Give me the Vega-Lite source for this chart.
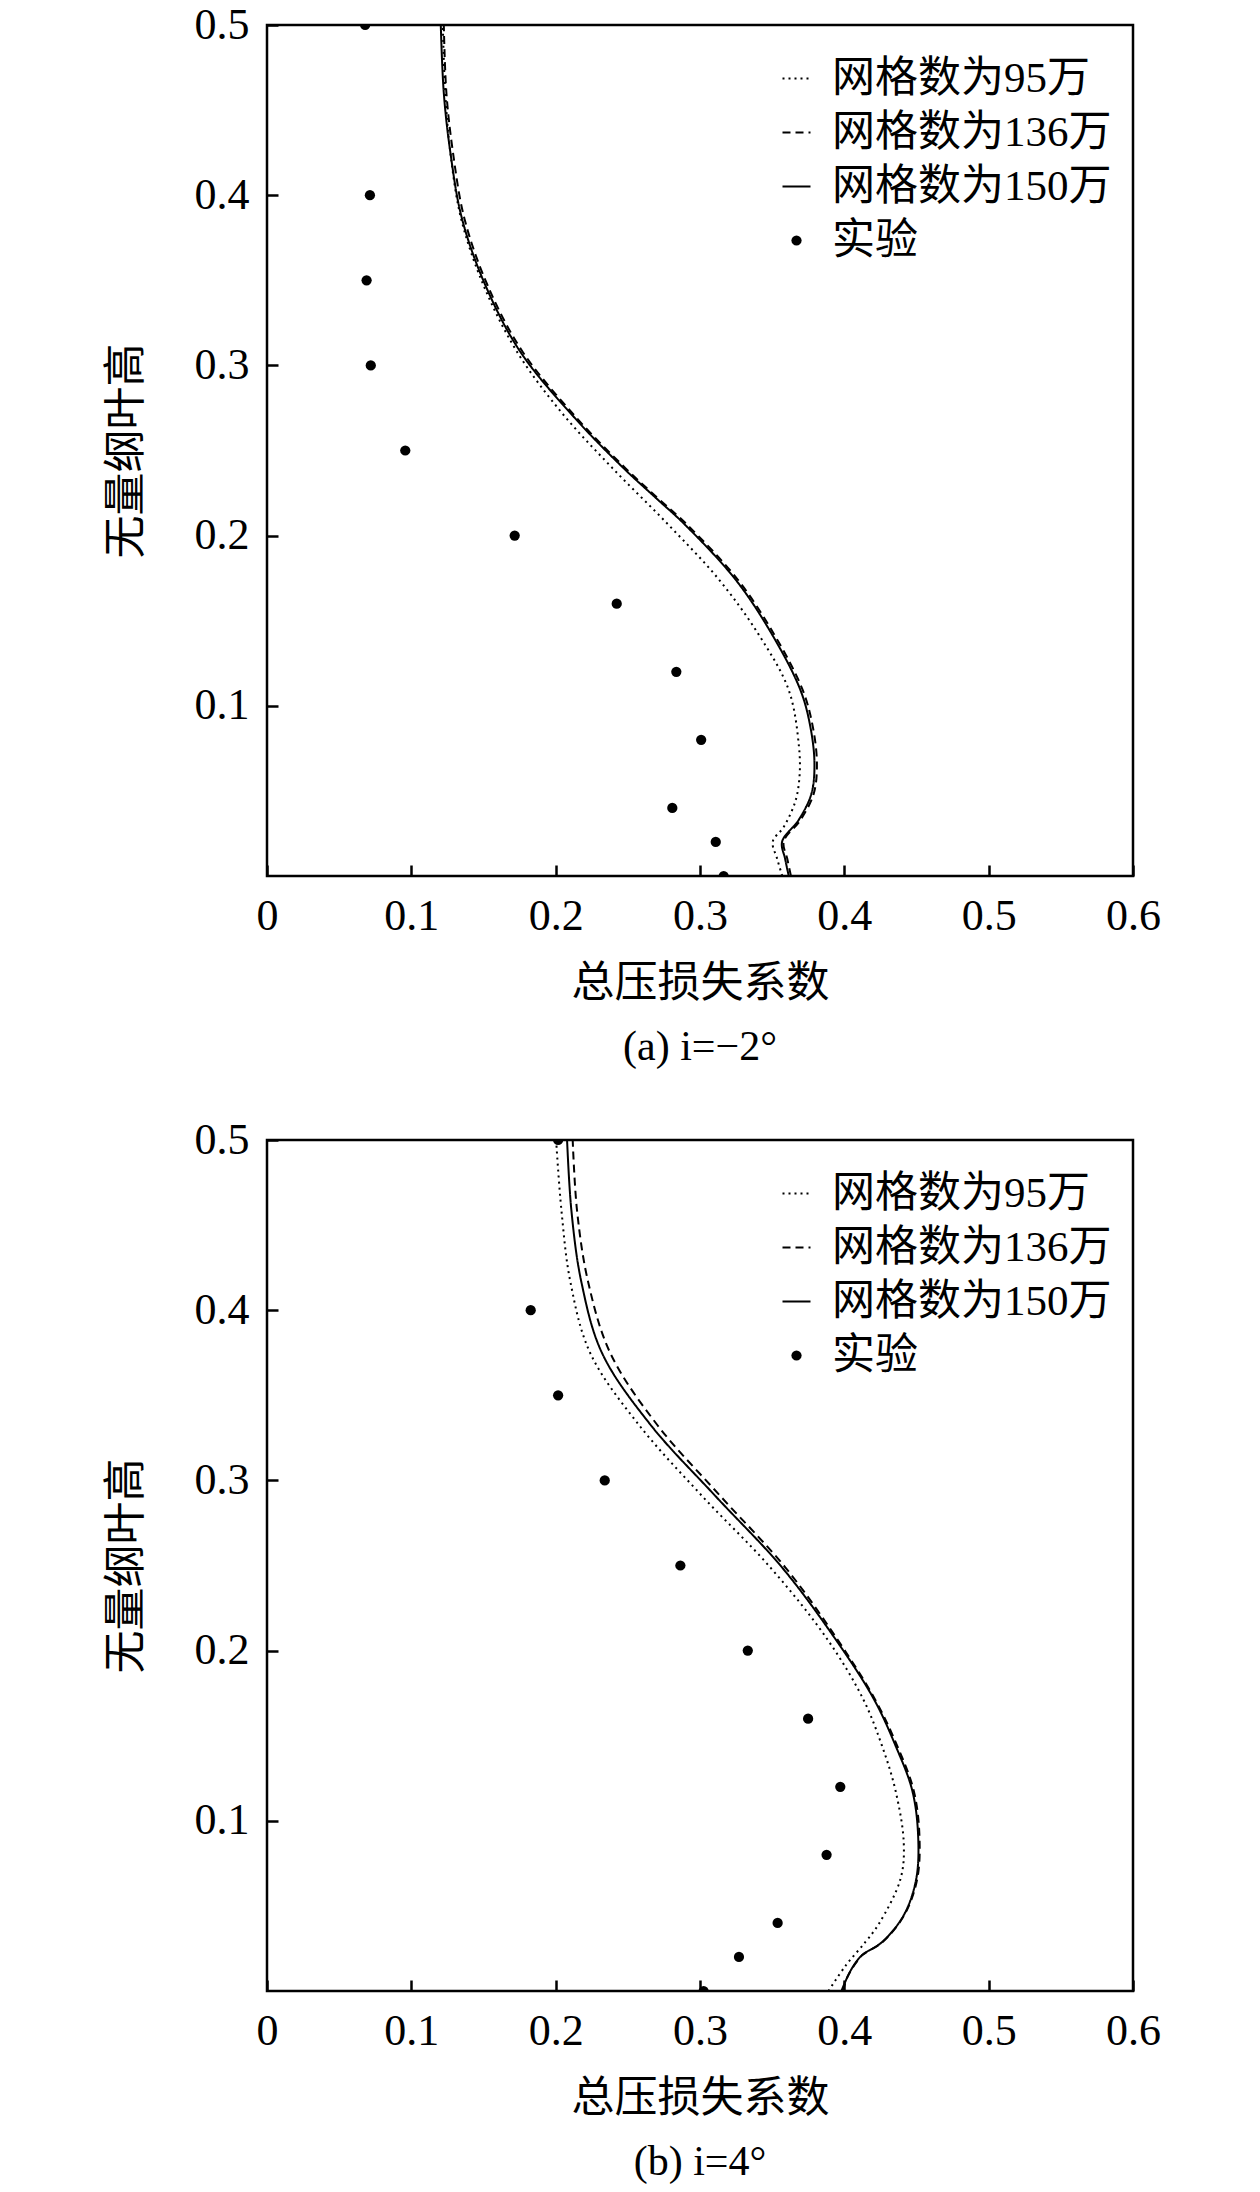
{
  "$schema": "https://vega.github.io/schema/vega-lite/v6.json",
  "background": "white",
  "padding": {"left": 103, "top": 1, "right": 5, "bottom": 5},
  "datasets": {
    "a_lines": [
      {"s": "网格数为95万", "x": 0.1218, "y": 0.5}, {"s": "网格数为95万", "x": 0.1235, "y": 0.46}, {"s": "网格数为95万", "x": 0.127, "y": 0.4254},
      {"s": "网格数为95万", "x": 0.1345, "y": 0.3862}, {"s": "网格数为95万", "x": 0.15, "y": 0.3471}, {"s": "网格数为95万", "x": 0.1733, "y": 0.3079},
      {"s": "网格数为95万", "x": 0.2044, "y": 0.272}, {"s": "网格数为95万", "x": 0.2395, "y": 0.2395}, {"s": "网格数为95万", "x": 0.2775, "y": 0.2069},
      {"s": "网格数为95万", "x": 0.313, "y": 0.1743}, {"s": "网格数为95万", "x": 0.3407, "y": 0.1418}, {"s": "网格数为95万", "x": 0.3615, "y": 0.1092},
      {"s": "网格数为95万", "x": 0.3685, "y": 0.0766}, {"s": "网格数为95万", "x": 0.369, "y": 0.0592}, {"s": "网格数为95万", "x": 0.3661, "y": 0.044},
      {"s": "网格数为95万", "x": 0.358, "y": 0.0288}, {"s": "网格数为95万", "x": 0.3504, "y": 0.0202}, {"s": "网格数为95万", "x": 0.3535, "y": 0.01},
      {"s": "网格数为95万", "x": 0.357, "y": 0},
      {"s": "网格数为136万", "x": 0.1225, "y": 0.5}, {"s": "网格数为136万", "x": 0.1243, "y": 0.46}, {"s": "网格数为136万", "x": 0.1288, "y": 0.4254},
      {"s": "网格数为136万", "x": 0.1368, "y": 0.3862}, {"s": "网格数为136万", "x": 0.1528, "y": 0.3471}, {"s": "网格数为136万", "x": 0.1772, "y": 0.3079},
      {"s": "网格数为136万", "x": 0.215, "y": 0.2687}, {"s": "网格数为136万", "x": 0.2485, "y": 0.2395}, {"s": "网格数为136万", "x": 0.2712, "y": 0.2217},
      {"s": "网格数为136万", "x": 0.2905, "y": 0.2069}, {"s": "网格数为136万", "x": 0.326, "y": 0.1743}, {"s": "网格数为136万", "x": 0.3515, "y": 0.1418},
      {"s": "网格数为136万", "x": 0.3712, "y": 0.1092}, {"s": "网格数为136万", "x": 0.3782, "y": 0.0875}, {"s": "网格数为136万", "x": 0.381, "y": 0.0658},
      {"s": "网格数为136万", "x": 0.3788, "y": 0.0484}, {"s": "网格数为136万", "x": 0.3698, "y": 0.0331}, {"s": "网格数为136万", "x": 0.358, "y": 0.0202},
      {"s": "网格数为136万", "x": 0.3605, "y": 0.01}, {"s": "网格数为136万", "x": 0.363, "y": 0},
      {"s": "网格数为150万", "x": 0.1204, "y": 0.5}, {"s": "网格数为150万", "x": 0.1225, "y": 0.46}, {"s": "网格数为150万", "x": 0.127, "y": 0.4254},
      {"s": "网格数为150万", "x": 0.1351, "y": 0.3862}, {"s": "网格数为150万", "x": 0.1513, "y": 0.3471}, {"s": "网格数为150万", "x": 0.1756, "y": 0.3079},
      {"s": "网格数为150万", "x": 0.2137, "y": 0.2687}, {"s": "网格数为150万", "x": 0.2472, "y": 0.2395}, {"s": "网格数为150万", "x": 0.27, "y": 0.2217},
      {"s": "网格数为150万", "x": 0.289, "y": 0.2069}, {"s": "网格数为150万", "x": 0.3245, "y": 0.1743}, {"s": "网格数为150万", "x": 0.35, "y": 0.1418},
      {"s": "网格数为150万", "x": 0.3696, "y": 0.1092}, {"s": "网格数为150万", "x": 0.3765, "y": 0.0875}, {"s": "网格数为150万", "x": 0.3793, "y": 0.0658},
      {"s": "网格数为150万", "x": 0.3772, "y": 0.0484}, {"s": "网格数为150万", "x": 0.3685, "y": 0.0331}, {"s": "网格数为150万", "x": 0.3569, "y": 0.0202},
      {"s": "网格数为150万", "x": 0.359, "y": 0.01}, {"s": "网格数为150万", "x": 0.3615, "y": 0}
    ],
    "a_pts": [
      {"x": 0.068, "y": 0.5}, {"x": 0.0713, "y": 0.4}, {"x": 0.069, "y": 0.35}, {"x": 0.0719, "y": 0.3},
      {"x": 0.0958, "y": 0.25}, {"x": 0.1716, "y": 0.2}, {"x": 0.2423, "y": 0.16}, {"x": 0.2836, "y": 0.12},
      {"x": 0.3008, "y": 0.08}, {"x": 0.2808, "y": 0.04}, {"x": 0.3109, "y": 0.02}, {"x": 0.3164, "y": 0}
    ],
    "b_lines": [
      {"s": "网格数为95万", "x": 0.2003, "y": 0.5}, {"s": "网格数为95万", "x": 0.204, "y": 0.4586}, {"s": "网格数为95万", "x": 0.2102, "y": 0.4166},
      {"s": "网格数为95万", "x": 0.224, "y": 0.3747}, {"s": "网格数为95万", "x": 0.2576, "y": 0.3327}, {"s": "网格数为95万", "x": 0.3015, "y": 0.2908},
      {"s": "网格数为95万", "x": 0.3488, "y": 0.2488}, {"s": "网格数为95万", "x": 0.3881, "y": 0.2068}, {"s": "网格数为95万", "x": 0.413, "y": 0.1716},
      {"s": "网格数为95万", "x": 0.426, "y": 0.1443}, {"s": "网格数为95万", "x": 0.4354, "y": 0.118}, {"s": "网格数为95万", "x": 0.4412, "y": 0.0866},
      {"s": "网格数为95万", "x": 0.4389, "y": 0.0658}, {"s": "网格数为95万", "x": 0.4239, "y": 0.0394}, {"s": "网格数为95万", "x": 0.4146, "y": 0.0288},
      {"s": "网格数为95万", "x": 0.401, "y": 0.015}, {"s": "网格数为95万", "x": 0.389, "y": 0},
      {"s": "网格数为136万", "x": 0.2118, "y": 0.5}, {"s": "网格数为136万", "x": 0.2148, "y": 0.4586}, {"s": "网格数为136万", "x": 0.2225, "y": 0.4166},
      {"s": "网格数为136万", "x": 0.2379, "y": 0.3747}, {"s": "网格数为136万", "x": 0.2703, "y": 0.3327}, {"s": "网格数为136万", "x": 0.3141, "y": 0.2908},
      {"s": "网格数为136万", "x": 0.3592, "y": 0.2488}, {"s": "网格数为136万", "x": 0.395, "y": 0.2068}, {"s": "网格数为136万", "x": 0.4211, "y": 0.1716},
      {"s": "网格数为136万", "x": 0.4365, "y": 0.1443}, {"s": "网格数为136万", "x": 0.448, "y": 0.118}, {"s": "网格数为136万", "x": 0.452, "y": 0.0918},
      {"s": "网格数为136万", "x": 0.4505, "y": 0.0658}, {"s": "网格数为136万", "x": 0.4415, "y": 0.0446}, {"s": "网格数为136万", "x": 0.4265, "y": 0.0288},
      {"s": "网格数为136万", "x": 0.4125, "y": 0.0211}, {"s": "网格数为136万", "x": 0.4068, "y": 0.015}, {"s": "网格数为136万", "x": 0.402, "y": 0.008},
      {"s": "网格数为136万", "x": 0.399, "y": 0},
      {"s": "网格数为150万", "x": 0.2079, "y": 0.5}, {"s": "网格数为150万", "x": 0.2109, "y": 0.4586}, {"s": "网格数为150万", "x": 0.2178, "y": 0.4166},
      {"s": "网格数为150万", "x": 0.2322, "y": 0.3747}, {"s": "网格数为150万", "x": 0.2657, "y": 0.3327}, {"s": "网格数为150万", "x": 0.3107, "y": 0.2908},
      {"s": "网格数为150万", "x": 0.3569, "y": 0.2488}, {"s": "网格数为150万", "x": 0.3938, "y": 0.2068}, {"s": "网格数为150万", "x": 0.4204, "y": 0.1716},
      {"s": "网格数为150万", "x": 0.4354, "y": 0.1443}, {"s": "网格数为150万", "x": 0.447, "y": 0.118}, {"s": "网格数为150万", "x": 0.4511, "y": 0.0918},
      {"s": "网格数为150万", "x": 0.4498, "y": 0.0658}, {"s": "网格数为150万", "x": 0.4412, "y": 0.0446}, {"s": "网格数为150万", "x": 0.4262, "y": 0.0288},
      {"s": "网格数为150万", "x": 0.4123, "y": 0.0211}, {"s": "网格数为150万", "x": 0.4065, "y": 0.015}, {"s": "网格数为150万", "x": 0.402, "y": 0.008},
      {"s": "网格数为150万", "x": 0.398, "y": 0}
    ],
    "b_pts": [
      {"x": 0.2017, "y": 0.5}, {"x": 0.1827, "y": 0.4}, {"x": 0.2017, "y": 0.35}, {"x": 0.234, "y": 0.3},
      {"x": 0.2864, "y": 0.25}, {"x": 0.3331, "y": 0.2}, {"x": 0.3749, "y": 0.16}, {"x": 0.3972, "y": 0.12},
      {"x": 0.3877, "y": 0.08}, {"x": 0.3538, "y": 0.04}, {"x": 0.327, "y": 0.02}, {"x": 0.3025, "y": 0}
    ]
  },
  "config": {
    "view": {"stroke": "black", "strokeWidth": 2.5},
    "font": "Liberation Serif, Noto Sans CJK SC",
    "axis": {
      "domain": false, "grid": false, "labelFlush": false,
      "tickSize": -11, "tickWidth": 2.5, "tickColor": "black",
      "labelFont": "Liberation Serif", "labelFontSize": 44, "labelColor": "black", "labelPadding": 29,
      "titleFont": "Liberation Serif, Noto Sans CJK SC", "titleFontSize": 43, "titleFontWeight": "normal", "titleColor": "black"
    },
    "title": {"font": "Liberation Serif, Noto Sans CJK SC", "fontSize": 42, "fontWeight": "normal", "color": "black", "orient": "bottom", "anchor": "middle", "offset": 22},
    "legend": {
      "title": null, "orient": "none", "legendX": 508, "legendY": 32,
      "labelFont": "Liberation Serif, Noto Sans CJK SC", "labelFontSize": 43, "labelColor": "black", "labelLimit": 0,
      "labelOffset": 14, "rowPadding": 10, "symbolType": "stroke", "symbolSize": 784,
      "symbolStrokeWidth": 2, "symbolStrokeColor": "black"
    }
  },
  "resolve": {"scale": {"strokeDash": "independent"}, "legend": {"strokeDash": "independent"}},
  "spacing": 46,
  "vconcat": [
    {
      "width": 866, "height": 851,
      "title": {"text": "(a) i=−2°"},
      "layer": [
        {
          "data": {"name": "a_lines"},
          "mark": {"type": "line", "color": "black", "strokeWidth": 2, "interpolate": "catmull-rom", "clip": true},
          "encoding": {
            "x": {"field": "x", "type": "quantitative", "scale": {"domain": [0, 0.6], "nice": false},
                  "axis": {"values": [0, 0.1, 0.2, 0.3, 0.4, 0.5, 0.6], "format": ".1~f", "title": "总压损失系数", "titlePadding": 24}},
            "y": {"field": "y", "type": "quantitative", "scale": {"domain": [0, 0.5], "nice": false},
                  "axis": {"values": [0.1, 0.2, 0.3, 0.4, 0.5], "format": ".1f", "title": "无量纲叶高", "titlePadding": 46}},
            "strokeDash": {"field": "s", "type": "nominal",
              "scale": {"domain": ["网格数为95万", "网格数为136万", "网格数为150万", "实验"], "range": [[2, 4], [8, 5], [1, 0], [1, 0]]},
              "legend": {"encode": {"symbols": {"update": {
                "shape": {"signal": "datum.value === '实验' ? 'circle' : 'stroke'"},
                "size": {"signal": "datum.value === '实验' ? 105 : 784"},
                "fill": {"signal": "datum.value === '实验' ? 'black' : 'transparent'"},
                "stroke": {"value": "black"},
                "strokeDash": {"signal": "datum.value === '网格数为95万' ? [2, 4] : datum.value === '网格数为136万' ? [8, 5] : [1, 0]"},
                "strokeWidth": {"signal": "datum.value === '实验' ? 0 : 2"},
                "opacity": {"value": 1}
              }}}}},
            "order": {"field": "y", "type": "quantitative"}
          }
        },
        {
          "data": {"name": "a_pts"},
          "mark": {"type": "circle", "color": "black", "opacity": 1, "size": 105, "clip": true},
          "encoding": {
            "x": {"field": "x", "type": "quantitative"},
            "y": {"field": "y", "type": "quantitative"}
          }
        }
      ]
    },
    {
      "width": 866, "height": 851,
      "title": {"text": "(b) i=4°"},
      "layer": [
        {
          "data": {"name": "b_lines"},
          "mark": {"type": "line", "color": "black", "strokeWidth": 2, "interpolate": "catmull-rom", "clip": true},
          "encoding": {
            "x": {"field": "x", "type": "quantitative", "scale": {"domain": [0, 0.6], "nice": false},
                  "axis": {"values": [0, 0.1, 0.2, 0.3, 0.4, 0.5, 0.6], "format": ".1~f", "title": "总压损失系数", "titlePadding": 24}},
            "y": {"field": "y", "type": "quantitative", "scale": {"domain": [0, 0.5], "nice": false},
                  "axis": {"values": [0.1, 0.2, 0.3, 0.4, 0.5], "format": ".1f", "title": "无量纲叶高", "titlePadding": 46}},
            "strokeDash": {"field": "s", "type": "nominal",
              "scale": {"domain": ["网格数为95万", "网格数为136万", "网格数为150万", "实验"], "range": [[2, 4], [8, 5], [1, 0], [1, 0]]},
              "legend": {"encode": {"symbols": {"update": {
                "shape": {"signal": "datum.value === '实验' ? 'circle' : 'stroke'"},
                "size": {"signal": "datum.value === '实验' ? 105 : 784"},
                "fill": {"signal": "datum.value === '实验' ? 'black' : 'transparent'"},
                "stroke": {"value": "black"},
                "strokeDash": {"signal": "datum.value === '网格数为95万' ? [2, 4] : datum.value === '网格数为136万' ? [8, 5] : [1, 0]"},
                "strokeWidth": {"signal": "datum.value === '实验' ? 0 : 2"},
                "opacity": {"value": 1}
              }}}}},
            "order": {"field": "y", "type": "quantitative"}
          }
        },
        {
          "data": {"name": "b_pts"},
          "mark": {"type": "circle", "color": "black", "opacity": 1, "size": 105, "clip": true},
          "encoding": {
            "x": {"field": "x", "type": "quantitative"},
            "y": {"field": "y", "type": "quantitative"}
          }
        }
      ]
    }
  ]
}
